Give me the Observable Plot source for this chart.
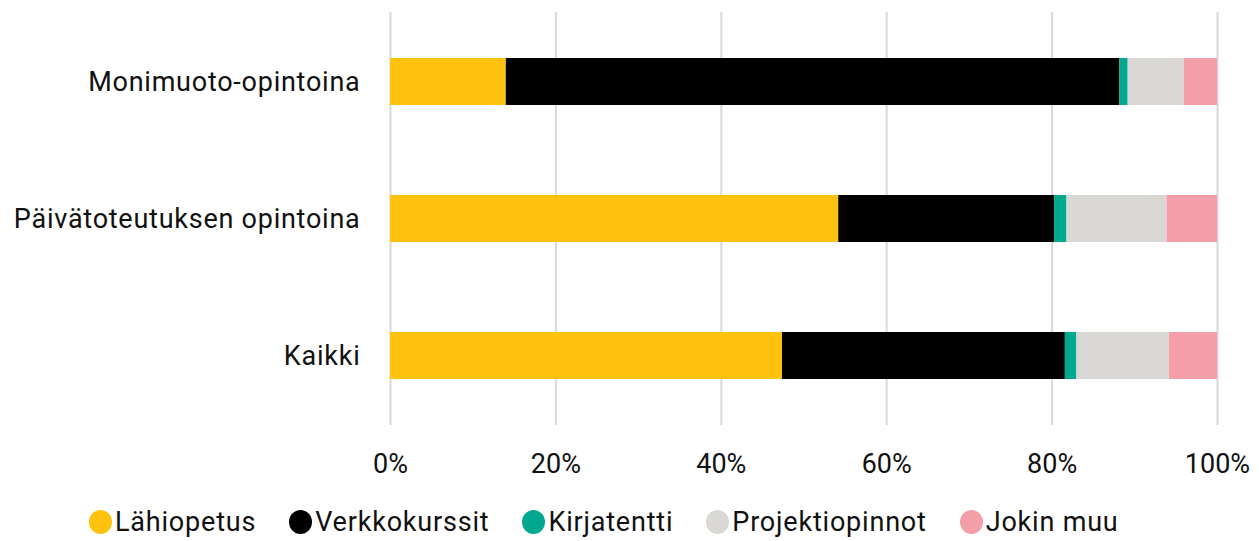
<!DOCTYPE html>
<html>
<head>
<meta charset="utf-8">
<script src="https://cdn.jsdelivr.net/npm/d3@7"></script>
<script src="https://cdn.jsdelivr.net/npm/@observablehq/plot@0.6"></script>
<style>
  body { margin: 0; background: #fff; font-family: Roboto, sans-serif; }
  #legend { display: flex; align-items: center; padding-left: 89px; height: 52px; font-size: 27px; color: #111; letter-spacing: 0.8px; }
  .item { display: flex; align-items: center; margin-right: 33px; }
  .dot { width: 23px; height: 24px; border-radius: 50%; margin-right: 3px; }
  .ylab text { letter-spacing: 0.75px; }
</style>
</head>
<body>
<div id="chart"></div>
<div id="legend"></div>
<script>
const categories = ["Monimuoto-opintoina", "Päivätoteutuksen opintoina", "Kaikki"];
const series = ["Lähiopetus", "Verkkokurssit", "Kirjatentti", "Projektiopinnot", "Jokin muu"];
const colors = ["#FFC20E", "#000000", "#00A88F", "#D9D8D4", "#F49EAA"];
const values = {
  "Monimuoto-opintoina": [14.0, 74.2, 1.0, 6.8, 4.0],
  "Päivätoteutuksen opintoina": [54.2, 26.1, 1.5, 12.1, 6.1],
  "Kaikki": [47.4, 34.2, 1.4, 11.2, 5.8]
};
const xTicks = [0, 20, 40, 60, 80, 100];

const data = [];
for (const c of categories) series.forEach((s, i) => data.push({category: c, series: s, value: values[c][i]}));

const chart = Plot.plot({
  width: 1259,
  height: 496,
  marginTop: 12,
  marginBottom: 71,
  marginLeft: 390,
  marginRight: 42,
  style: {fontFamily: "Roboto, sans-serif", fontSize: "27px", color: "#111"},
  x: {domain: [0, 100]},
  y: {domain: categories, paddingInner: 0.66, paddingOuter: 0.33, label: null},
  color: {domain: series, range: colors},
  marks: [
    Plot.gridX(xTicks, {stroke: "#d9d9d9", strokeOpacity: 1, strokeWidth: 2}),
    Plot.barX(data, Plot.stackX({x: "value", y: "category", fill: "series", order: series})),
    Plot.axisX({ticks: xTicks, tickFormat: d => d + "%", tickSize: 0, tickPadding: 28, fontSize: 27, label: null}),
    Plot.axisY({tickSize: 0, tickPadding: 30, fontSize: 27, label: null, className: "ylab"})
  ]
});
document.getElementById("chart").appendChild(chart);

const legend = document.getElementById("legend");
series.forEach((s, i) => {
  const item = document.createElement("div");
  item.className = "item";
  const dot = document.createElement("span");
  dot.className = "dot";
  dot.style.background = colors[i];
  const label = document.createElement("span");
  label.textContent = s;
  item.appendChild(dot);
  item.appendChild(label);
  legend.appendChild(item);
});
</script>
</body>
</html>
